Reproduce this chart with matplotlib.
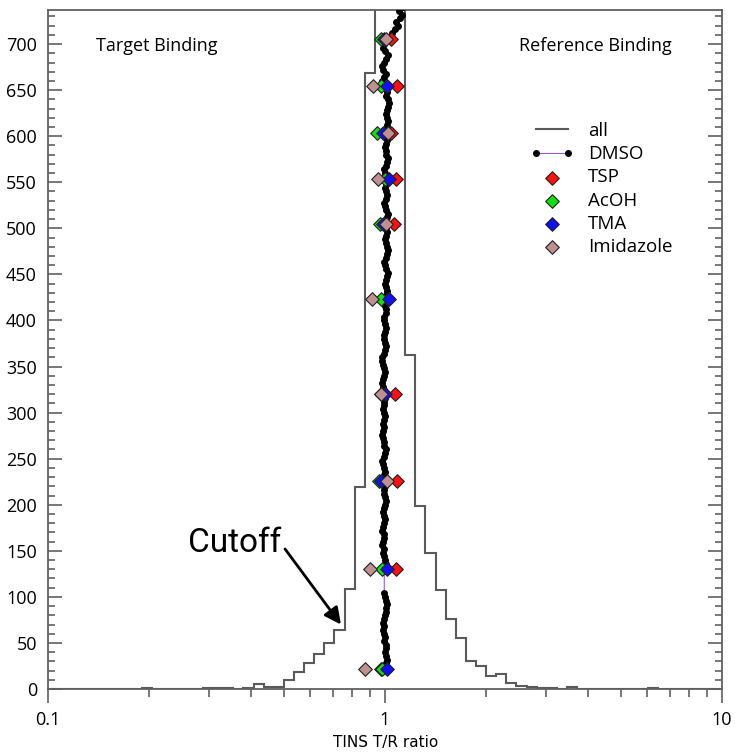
import matplotlib.pyplot as plt
from matplotlib.lines import Line2D
from matplotlib.ticker import MultipleLocator, LogLocator, NullFormatter, FixedFormatter, FixedLocator
import numpy as np

plt.rcParams['font.family'] = ['Open Sans', 'DejaVu Sans']

# histogram of all compounds, log bins 0.03 decades wide
bin_exponents = np.arange(-34, 35) * 0.03
all_counts = [0, 0, 0, 0, 0, 0, 0, 0, 0, 0,
              1, 0, 0, 0, 0, 0, 1, 1, 1, 0,
              1, 5, 2, 2, 10, 18, 28, 38, 50, 64,
              108, 219, 669, 980, 1150, 850, 363, 199, 148, 107,
              76, 55, 30, 25, 14, 16, 7, 3, 2, 1,
              1, 0, 2, 0, 0, 0, 0, 0, 0, 0,
              1, 0, 0, 0, 0, 0, 0, 0]

# DMSO control wells (ratio by well order)
dmso_index = list(range(24, 108, 4)) + list(range(128, 744, 4))
dmso_ratio = [
    1.012, 1.008, 1.015, 1.005, 0.998, 1.010, 1.004, 0.995, 1.002, 0.990,
    0.985, 0.992, 0.988, 0.996, 1.003, 1.010, 1.006, 1.015, 1.008, 1.000,
    0.995,
    0.995, 1.004, 1.008, 0.998, 0.990, 0.985, 0.992, 0.983, 0.988, 0.995,
    0.990, 0.980, 0.986, 0.993, 1.000, 0.996, 0.988, 0.992, 1.002, 1.006,
    0.998, 0.990, 0.994, 1.000, 0.992,
    0.986, 0.994, 1.002, 0.996, 0.988, 0.982, 0.990, 0.998, 1.004, 0.996,
    0.990, 0.985, 0.978, 0.984, 0.992, 0.988, 0.994, 1.000, 0.993, 0.986,
    0.990, 0.996, 1.003, 0.998,
    0.992, 0.985, 0.980, 0.988, 0.995, 1.002, 0.996, 0.986, 0.978, 0.982,
    0.990, 0.998, 1.005, 0.998, 0.990, 0.994, 1.002, 1.008, 1.000, 0.992,
    0.996, 1.004, 1.010, 1.002, 0.996,
    1.000, 1.008, 1.014, 1.006, 0.998, 1.004, 1.012, 1.018, 1.010, 1.002,
    0.996, 1.004, 1.012, 1.020, 1.012, 1.004, 0.998, 1.006, 1.014, 1.008,
    1.000,
    1.004, 1.012, 1.018, 1.010, 1.002, 0.996, 1.004, 1.012, 1.008, 1.000,
    1.006, 1.014,
    1.008, 1.002, 0.996, 1.004, 1.012, 1.018, 1.010, 1.004, 0.998, 1.006,
    1.014, 1.010, 1.002,
    1.008, 1.016, 1.022, 1.014, 1.006, 1.012, 1.020, 1.026, 1.018, 1.010,
    1.016, 1.008,
    0.990, 0.982, 0.995, 1.005, 0.988, 0.978, 0.992, 1.010, 1.020, 1.002,
    0.985, 0.995, 1.012,
    1.030, 1.050, 1.072, 1.095, 1.080, 1.105, 1.120, 1.098, 1.130,
]

# reference compounds, one row per plate
ref_rows = [22, 130, 226, 320, 423, 505, 554, 604, 655, 705]
tsp = [0.973, 1.079, 1.086, 1.071, 1.021, 1.064, 1.081, 1.042, 1.088, 1.044]
acoh = [0.980, 0.980, 0.958, 0.973, 0.975, 0.968, 0.998, 0.948, 0.975, 0.975]
tma = [1.014, 1.014, 0.973, 1.002, 1.028, 0.986, 1.026, 0.986, 1.014, 0.993]
imidazole = [0.872, 0.900, 1.014, 0.975, 0.915, 1.005, 0.953, 1.021, 0.921, 1.009]

W, H = 735, 754
fig = plt.figure(figsize=(W / 100, H / 100), dpi=100)
ax = fig.add_axes([48 / W, 1 - 689 / H, (722 - 48) / W, (689 - 10) / H])

hist_color = '#5a5a5a'
ax.stairs(all_counts, 10 ** bin_exponents, color=hist_color, lw=1.5, zorder=2)

ax.plot(dmso_ratio, dmso_index, color='#9a5ad8', lw=0.8, marker='o', ms=4,
        mfc='black', mec='black', zorder=3, label='DMSO')

for vals, col, name in [(tsp, '#ff1010', 'TSP'), (acoh, '#10e010', 'AcOH'),
                        (tma, '#1010f0', 'TMA'), (imidazole, '#c09090', 'Imidazole')]:
    ax.scatter(vals, ref_rows, marker='D', s=48, color=col, edgecolors='#202020',
               linewidths=0.8, zorder=4, label=name)

ax.set_xscale('log')
ax.set_xlim(0.1, 10)
ax.set_ylim(0, 737)

ax.xaxis.set_major_locator(FixedLocator([0.1, 1, 10]))
ax.xaxis.set_major_formatter(FixedFormatter(['0.1', '1', '10']))
ax.xaxis.set_minor_locator(LogLocator(base=10, subs=np.arange(2, 10)))
ax.xaxis.set_minor_formatter(NullFormatter())
ax.yaxis.set_major_locator(MultipleLocator(50))
ax.yaxis.set_minor_locator(MultipleLocator(10))

spine_color = '#606060'
for s in ax.spines.values():
    s.set_color(spine_color)
    s.set_linewidth(1.3)

ax.tick_params(axis='x', which='both', direction='out', color=spine_color,
               width=1.2, labelsize=13, pad=6)
ax.tick_params(axis='x', which='major', length=10)
ax.tick_params(axis='x', which='minor', length=6)
ax.tick_params(axis='y', which='both', direction='in', left=True, right=True,
               color=spine_color, width=1.2, labelsize=13, pad=8)
ax.tick_params(axis='y', which='major', length=10)
ax.tick_params(axis='y', which='minor', length=5)

handles = [Line2D([], [], color=hist_color, lw=1.5, label='all')]
h, l = ax.get_legend_handles_labels()
handles += h
leg = fig.legend(handles=handles, loc='upper left',
                 bbox_to_anchor=(530 / W, 1 - 122 / H), frameon=False,
                 numpoints=2, scatterpoints=1, fontsize=13.5, handlelength=2.3,
                 handletextpad=0.8, labelspacing=0.28, borderpad=0,
                 borderaxespad=0)

fig.text(96 / W, 1 - 46 / H, 'Target Binding', ha='left', va='center', fontsize=13)
fig.text(672 / W, 1 - 46 / H, 'Reference Binding', ha='right', va='center', fontsize=13)
fig.text(386 / W, 1 - 742 / H, 'TINS T/R ratio', ha='center', va='center',
         fontsize=11, family=['Liberation Sans Narrow', 'DejaVu Sans'])

# cutoff marker
ax.text(0.359, 159, 'Cutoff', ha='center', va='center', fontsize=24,
        family=['Roboto', 'DejaVu Sans'])
ax.annotate('', xy=(0.74, 70), xytext=(0.505, 152),
            arrowprops=dict(arrowstyle='-|>', color='black', lw=2,
                            mutation_scale=25, shrinkA=0, shrinkB=0))

fig.savefig('out.png', dpi=100)
